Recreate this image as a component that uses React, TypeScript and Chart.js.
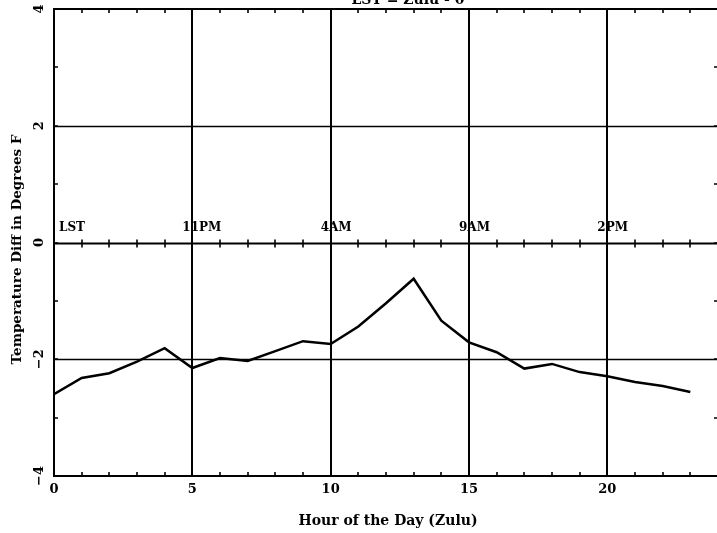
import React, { useEffect, useRef } from "react";
import { Chart, registerables } from "chart.js";

Chart.register(...registerables);

const hours = [0, 1, 2, 3, 4, 5, 6, 7, 8, 9, 10, 11, 12, 13, 14, 15, 16, 17, 18, 19, 20, 21, 22, 23];
const tempDiff = [-2.6, -2.32, -2.24, -2.04, -1.81, -2.15, -1.98, -2.03, -1.86, -1.69, -1.74, -1.44, -1.04, -0.62, -1.34, -1.71, -1.88, -2.16, -2.08, -2.22, -2.29, -2.39, -2.46, -2.56];

const xTickValues = [0, 5, 10, 15, 20];
const xTickLabels = ["0", "5", "10", "15", "20"];
const yTickValues = [-4, -2, 0, 2, 4];
const yTickLabels = ["\u22124", "\u22122", "0", "2", "4"];
const gridHours = [5, 10, 15, 20];
const gridTemps = [-2, 2];
const lstHours = [0, 5, 10, 15, 20];
const lstLabels = ["LST", "11PM", "4AM", "9AM", "2PM"];

const titleText = "LST = Zulu - 0";
const xTitle = "Hour of the Day (Zulu)";
const yTitle = "Temperature Diff in Degrees F";

const FONT = '"DejaVu Serif"';

const framePlugin = {
  id: "frame",
  beforeDatasetsDraw(chart: any) {
    const ctx = chart.ctx;
    const { left, right, top, bottom } = chart.chartArea;
    const xs = chart.scales.x;
    const ys = chart.scales.y;
    ctx.save();
    ctx.strokeStyle = "#000";
    ctx.lineCap = "butt";
    // vertical grid
    ctx.lineWidth = 2;
    for (const h of gridHours) {
      const x = Math.round(xs.getPixelForValue(h));
      ctx.beginPath();
      ctx.moveTo(x, top);
      ctx.lineTo(x, bottom);
      ctx.stroke();
    }
    // horizontal grid
    ctx.lineWidth = 1.5;
    for (const t of gridTemps) {
      const y = Math.round(ys.getPixelForValue(t)) + 0.5;
      ctx.beginPath();
      ctx.moveTo(left, y);
      ctx.lineTo(right, y);
      ctx.stroke();
    }
    // zero line with ticks
    const y0 = Math.round(ys.getPixelForValue(0)) + 0.5;
    ctx.lineWidth = 2;
    ctx.beginPath();
    ctx.moveTo(left, y0);
    ctx.lineTo(right, y0);
    ctx.stroke();
    ctx.lineWidth = 1.6;
    for (let h = 0; h <= 24; h++) {
      const x = Math.round(xs.getPixelForValue(h));
      ctx.beginPath();
      ctx.moveTo(x, y0 - 4);
      ctx.lineTo(x, y0 + 4);
      ctx.stroke();
      ctx.beginPath();
      ctx.moveTo(x, top);
      ctx.lineTo(x, top + 4);
      ctx.moveTo(x, bottom);
      ctx.lineTo(x, bottom - 4);
      ctx.stroke();
    }
    // left / right ticks
    for (let v = -4; v <= 4; v++) {
      const y = Math.round(ys.getPixelForValue(v));
      ctx.beginPath();
      ctx.moveTo(left, y);
      ctx.lineTo(left + 4, y);
      ctx.moveTo(right, y);
      ctx.lineTo(right - 4, y);
      ctx.stroke();
    }
    // border
    ctx.lineWidth = 2;
    ctx.beginPath();
    ctx.moveTo(right, top);
    ctx.lineTo(left, top);
    ctx.lineTo(left, bottom);
    ctx.lineTo(right, bottom);
    ctx.stroke();
    ctx.lineWidth = 1;
    ctx.beginPath();
    ctx.moveTo(right, top);
    ctx.lineTo(right, bottom);
    ctx.stroke();
    ctx.restore();
  },
  afterDraw(chart: any) {
    const ctx = chart.ctx;
    const { left, right, top, bottom } = chart.chartArea;
    const xs = chart.scales.x;
    const ys = chart.scales.y;
    ctx.save();
    ctx.fillStyle = "#000";
    // LST labels
    ctx.font = `bold 12px ${FONT}`;
    ctx.textAlign = "left";
    ctx.textBaseline = "alphabetic";
    const y0 = ys.getPixelForValue(0);
    lstLabels.forEach((lab, i) => {
      const x = xs.getPixelForValue(lstHours[i]);
      ctx.fillText(lab, i === 0 ? x + 5 : x - 10, y0 - 12);
    });
    // x tick labels
    ctx.font = `bold 13px ${FONT}`;
    ctx.textAlign = "center";
    ctx.textBaseline = "middle";
    xTickValues.forEach((v, i) => {
      ctx.fillText(xTickLabels[i], xs.getPixelForValue(v), bottom + 14);
    });
    // y tick labels (rotated)
    yTickValues.forEach((v, i) => {
      ctx.save();
      ctx.translate(left - 14, ys.getPixelForValue(v));
      ctx.rotate(-Math.PI / 2);
      ctx.fillText(yTickLabels[i], 0, 0);
      ctx.restore();
    });
    // axis titles
    ctx.font = `bold 14px ${FONT}`;
    ctx.fillText(xTitle, (left + right) / 2 + 2, bottom + 45);
    ctx.font = `bold 13.5px ${FONT}`;
    ctx.save();
    ctx.translate(17, (top + bottom) / 2 + 7);
    ctx.rotate(-Math.PI / 2);
    ctx.fillText(yTitle, 0, 0);
    ctx.restore();
    // top title (partially cut off)
    ctx.font = `bold 14px ${FONT}`;
    ctx.textBaseline = "alphabetic";
    ctx.fillText(titleText, 408, 4);
    ctx.restore();
  },
};

export default function App() {
  const ref = useRef<HTMLCanvasElement | null>(null);
  useEffect(() => {
    if (!ref.current) return;
    const chart = new Chart(ref.current, {
      type: "line",
      data: {
        datasets: [
          {
            data: hours.map((h, i) => ({ x: h, y: tempDiff[i] })),
            borderColor: "#000",
            borderWidth: 2.5,
            pointRadius: 0,
            tension: 0,
            fill: false,
          },
        ],
      },
      options: {
        animation: false,
        responsive: false,
        devicePixelRatio: 1,
        layout: { padding: { left: 54, top: 9, right: 2, bottom: 57 } },
        plugins: { legend: { display: false }, tooltip: { enabled: false } },
        scales: {
          x: { type: "linear", min: 0, max: 24, display: false },
          y: { type: "linear", min: -4, max: 4, display: false },
        },
      },
      plugins: [framePlugin],
    });
    return () => chart.destroy();
  }, []);
  return (
    <div style={{ position: "fixed", left: 0, top: 0, width: 717, height: 533, overflow: "hidden", background: "#fff" }}>
      <canvas ref={ref} width={720} height={533} style={{ display: "block" }} />
    </div>
  );
}
